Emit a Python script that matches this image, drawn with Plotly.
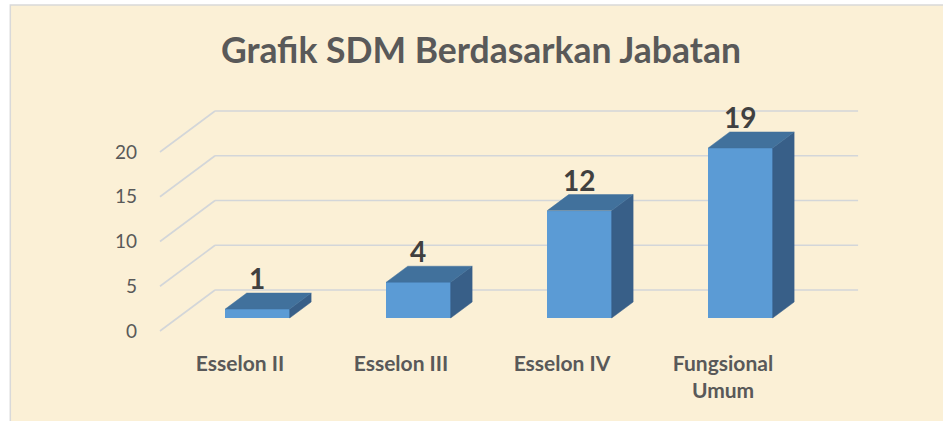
import plotly.graph_objects as go

# ---- data ----
categories = ["Esselon II", "Esselon III", "Esselon IV", "Fungsional<br>Umum"]
values = [1, 4, 12, 19]
y_ticks = [0, 5, 10, 15, 20]
title_text = "Grafik SDM Berdasarkan Jabatan"

# ---- pseudo-3D geometry (in axis units) ----
DEPTH_X = 0.342     # full floor depth, horizontal (category units)
DEPTH_Y = 4.58      # full floor depth, vertical (value units)
T_FRONT = 0.317     # bar front face depth fraction
T_BACK = 0.707      # bar back face depth fraction
HALF_W = 0.20       # half bar width
GRID_LEFT = -0.497
GRID_RIGHT = 3.839

FRONT_COL = "#5B9BD5"
TOP_COL = "#41719C"
SIDE_COL = "#385F88"
GRID_COL = "#D3D6D9"
TXT = "#595959"
FONT = "Lato"

fig = go.Figure()

# background panel with border
fig.add_shape(type="rect", xref="paper", yref="paper",
              x0=-0.194, x1=1.2, y0=-0.4, y1=1.388,
              fillcolor="#FBF0D6", line=dict(color="#D9D9D9", width=1.5), layer="below")

# gridlines: front-left diagonal then along back wall (below bars)
for v in y_ticks:
    fig.add_shape(type="line", xref="x", yref="y", layer="below",
                  x0=GRID_LEFT, y0=v, x1=GRID_LEFT + DEPTH_X, y1=v + DEPTH_Y,
                  line=dict(color=GRID_COL, width=1.6))
    fig.add_shape(type="line", xref="x", yref="y", layer="below",
                  x0=GRID_LEFT + DEPTH_X, y0=v + DEPTH_Y, x1=GRID_RIGHT, y1=v + DEPTH_Y,
                  line=dict(color=GRID_COL, width=1.6))

dxf, dyf = DEPTH_X * T_FRONT, DEPTH_Y * T_FRONT
dxb, dyb = DEPTH_X * T_BACK, DEPTH_Y * T_BACK

for i, v in enumerate(values):
    # side face
    fig.add_trace(go.Scatter(
        x=[i + HALF_W + dxf, i + HALF_W + dxb, i + HALF_W + dxb, i + HALF_W + dxf, i + HALF_W + dxf],
        y=[dyf, dyb, v + dyb, v + dyf, dyf],
        mode="lines", fill="toself", fillcolor=SIDE_COL,
        line=dict(color=SIDE_COL, width=0.5), hoverinfo="skip", showlegend=False))
    # top face
    fig.add_trace(go.Scatter(
        x=[i - HALF_W + dxf, i + HALF_W + dxf, i + HALF_W + dxb, i - HALF_W + dxb, i - HALF_W + dxf],
        y=[v + dyf, v + dyf, v + dyb, v + dyb, v + dyf],
        mode="lines", fill="toself", fillcolor=TOP_COL,
        line=dict(color=TOP_COL, width=0.5), hoverinfo="skip", showlegend=False))

# front faces
fig.add_trace(go.Bar(
    x=[i + dxf for i in range(len(values))], y=values, base=[dyf] * len(values),
    width=2 * HALF_W, marker=dict(color=FRONT_COL, line=dict(width=0)),
    showlegend=False, hoverinfo="skip"))

# data labels
for i, v in enumerate(values):
    fig.add_annotation(x=i + dxf, y=v + dyb, text=f"<b>{v}</b>", showarrow=False,
                       yanchor="bottom", yshift=-4,
                       font=dict(family=FONT, size=28, color="#404040"))

fig.update_layout(
    width=943, height=421,
    margin=dict(l=150, r=73, t=100, b=76),
    paper_bgcolor="white", plot_bgcolor="rgba(0,0,0,0)",
    title=dict(text=f"<b>{title_text}</b>", x=0.51, xanchor="center",
               y=0.88, yanchor="middle",
               font=dict(family=FONT, size=35.5, color=TXT)),
    font=dict(family=FONT),
    bargap=0,
)
fig.update_xaxes(range=[-0.559, 3.913], showgrid=False, zeroline=False, showline=False,
                 tickvals=list(range(len(categories))),
                 ticktext=[f"<b>{c}</b>" for c in categories],
                 tickfont=dict(family=FONT, size=21, color=TXT),
                 ticks="", ticklabelstandoff=4)
fig.update_yaxes(range=[-1.564, 25.81], showgrid=False, zeroline=False, showline=False,
                 tickvals=y_ticks, tickfont=dict(family=FONT, size=19, color=TXT),
                 ticks="", ticklabelstandoff=12)

fig.write_html("out.html", config={"displayModeBar": False},
               post_script="document.body.style.margin='0';")
